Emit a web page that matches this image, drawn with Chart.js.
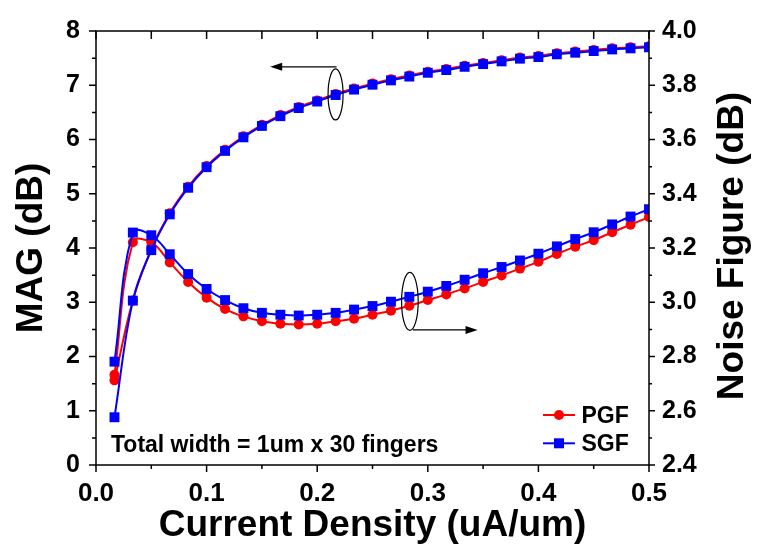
<!DOCTYPE html>
<html>
<head>
<meta charset="utf-8">
<script src="https://cdn.jsdelivr.net/npm/chart.js@4.4.1/dist/chart.umd.min.js"></script>
<style>
  html, body { margin: 0; padding: 0; background: #fff; }
  #wrap { width: 759px; height: 550px; }
</style>
</head>
<body>
<div id="wrap"><canvas id="magChart" width="759" height="550"></canvas></div>
<script>
// Current density (uA/um), one point every 1/60
const currentDensity = [0.0167, 0.0333, 0.05, 0.0667, 0.0833, 0.1, 0.1167, 0.1333, 0.15, 0.1667,
  0.1833, 0.2, 0.2167, 0.2333, 0.25, 0.2667, 0.2833, 0.3, 0.3167, 0.3333,
  0.35, 0.3667, 0.3833, 0.4, 0.4167, 0.4333, 0.45, 0.4667, 0.4833, 0.5];

// MAG (dB), left axis
const magPGF = [1.56, 3.03, 3.98, 4.64, 5.13, 5.51, 5.81, 6.06, 6.27, 6.45,
  6.60, 6.72, 6.84, 6.94, 7.03, 7.11, 7.18, 7.25, 7.30, 7.36,
  7.41, 7.46, 7.51, 7.54, 7.59, 7.62, 7.65, 7.68, 7.70, 7.72];
const magSGF = [0.88, 3.03, 3.96, 4.62, 5.11, 5.49, 5.79, 6.04, 6.25, 6.43,
  6.58, 6.70, 6.82, 6.92, 7.01, 7.09, 7.16, 7.23, 7.28, 7.34,
  7.39, 7.44, 7.49, 7.52, 7.57, 7.60, 7.63, 7.66, 7.68, 7.70];

// Noise figure (dB), right axis
const nfPGF = [2.733, 3.221, 3.221, 3.147, 3.075, 3.017, 2.975, 2.948, 2.930, 2.921,
  2.918, 2.921, 2.930, 2.939, 2.954, 2.969, 2.987, 3.008, 3.029, 3.051,
  3.075, 3.099, 3.124, 3.149, 3.178, 3.205, 3.229, 3.258, 3.286, 3.314];
const nfSGF = [2.781, 3.257, 3.247, 3.177, 3.104, 3.049, 3.008, 2.978, 2.961, 2.954,
  2.951, 2.954, 2.961, 2.973, 2.986, 3.002, 3.020, 3.039, 3.060, 3.083,
  3.107, 3.130, 3.154, 3.179, 3.206, 3.233, 3.258, 3.287, 3.316, 3.343];

const seriesNames = ['PGF', 'SGF'];
const seriesColors = ['#ff0000', '#0000ff'];
const noteText = 'Total width = 1um x 30 fingers';
const nfTitle = 'Noise Figure (dB)';

const FONT = "'Liberation Sans', Arial, sans-serif";
Chart.defaults.font.family = FONT;
Chart.defaults.font.weight = 'bold';
Chart.defaults.color = '#000';

const toPoints = ys => ys.map((y, i) => ({ x: currentDensity[i], y: y }));

function lineSet(label, ys, color, shape, axis, order) {
  return {
    label: label,
    data: toPoints(ys),
    yAxisID: axis,
    borderColor: color,
    backgroundColor: color,
    borderWidth: 2,
    pointStyle: shape,
    pointRadius: shape === 'rect' ? 7 : 5,
    pointBorderWidth: 0,
    tension: 0.4,
    order: order
  };
}

// ticks, frame, arrows, legend, note, right title
const decorations = {
  id: 'decorations',
  afterDatasetsDraw(chart) {
    const { ctx, chartArea: a, scales } = chart;
    const x = scales.x, yl = scales.yMag, yr = scales.yNf;
    ctx.save();
    ctx.strokeStyle = '#000';
    ctx.lineWidth = 1.5;
    ctx.strokeRect(a.left, a.top, a.right - a.left, a.bottom - a.top);

    ctx.beginPath();
    for (let i = 0; i <= 10; i++) {
      const px = x.getPixelForValue(i * 0.05);
      const len = i % 2 === 0 ? 7 : 4;
      ctx.moveTo(px, a.bottom); ctx.lineTo(px, a.bottom + len);
      ctx.moveTo(px, a.top); ctx.lineTo(px, a.top + 8);
    }
    for (let i = 0; i <= 16; i++) {
      const py = yl.getPixelForValue(i * 0.5);
      ctx.moveTo(a.left, py); ctx.lineTo(a.left - (i % 2 === 0 ? 7 : 4), py);
    }
    for (let i = 0; i <= 16; i++) {
      const py = yr.getPixelForValue(2.4 + i * 0.1);
      ctx.moveTo(a.right, py); ctx.lineTo(a.right + (i % 2 === 0 ? 6 : 3), py);
    }
    ctx.stroke();

    // ellipse + arrow marking which curve goes with which axis
    ctx.lineWidth = 1.2;
    function ellipse(cx, cy, rx, ry) {
      ctx.beginPath();
      ctx.ellipse(cx, cy, rx, ry, 0, 0, Math.PI * 2);
      ctx.stroke();
    }
    function arrow(x1, y1, x2, y2) {
      const dir = Math.sign(x2 - x1);
      ctx.beginPath();
      ctx.moveTo(x1, y1); ctx.lineTo(x2 - dir * 10, y2);
      ctx.stroke();
      ctx.beginPath();
      ctx.moveTo(x2, y2);
      ctx.lineTo(x2 - dir * 12, y2 - 4);
      ctx.lineTo(x2 - dir * 12, y2 + 4);
      ctx.closePath();
      ctx.fill();
    }
    ctx.fillStyle = '#000';
    ellipse(x.getPixelForValue(0.2166), yl.getPixelForValue(6.83), 7.5, 25.5);
    arrow(x.getPixelForValue(0.2175), yl.getPixelForValue(7.34), x.getPixelForValue(0.1575), yl.getPixelForValue(7.34));
    ellipse(x.getPixelForValue(0.2838), yr.getPixelForValue(3.003), 8.3, 29);
    arrow(x.getPixelForValue(0.2866), yr.getPixelForValue(2.898), x.getPixelForValue(0.345), yr.getPixelForValue(2.898));

    // note
    ctx.font = 'bold 23px ' + FONT;
    ctx.textBaseline = 'alphabetic';
    ctx.textAlign = 'left';
    ctx.fillText(noteText, a.left + 15, a.bottom - 13);

    // legend
    ctx.font = 'bold 23px ' + FONT;
    seriesNames.forEach((name, i) => {
      const ly = a.bottom - 50 + i * 28.3;
      const lx = a.right - 106;
      ctx.strokeStyle = seriesColors[i];
      ctx.fillStyle = seriesColors[i];
      ctx.lineWidth = 2;
      ctx.beginPath();
      ctx.moveTo(lx, ly); ctx.lineTo(lx + 32, ly);
      ctx.stroke();
      ctx.beginPath();
      if (i === 0) {
        ctx.arc(lx + 16, ly, 5, 0, Math.PI * 2);
      } else {
        ctx.rect(lx + 11, ly - 5, 10, 10);
      }
      ctx.fill();
      ctx.fillStyle = '#000';
      ctx.fillText(name, lx + 38.5, ly + 7.5);
    });

    // right axis title, reading bottom to top like the left one
    ctx.font = 'bold 37px ' + FONT;
    ctx.textAlign = 'center';
    ctx.textBaseline = 'middle';
    ctx.translate(733, (a.top + a.bottom) / 2 - 2);
    ctx.rotate(-Math.PI / 2);
    ctx.fillText(nfTitle, 0, 0);
    ctx.restore();
  }
};

const tickFont = size => ({ family: FONT, size: size, weight: 'bold' });
const titleFont = { family: FONT, size: 37, weight: 'bold' };

const ctx = document.getElementById('magChart').getContext('2d');
const magChart = new Chart(ctx, {
  type: 'line',
  data: {
    datasets: [
      lineSet(seriesNames[0], magPGF, seriesColors[0], 'circle', 'yMag', 2),
      lineSet(seriesNames[0], nfPGF, seriesColors[0], 'circle', 'yNf', 2),
      lineSet(seriesNames[1], magSGF, seriesColors[1], 'rect', 'yMag', 1),
      lineSet(seriesNames[1], nfSGF, seriesColors[1], 'rect', 'yNf', 1)
    ]
  },
  options: {
    responsive: false,
    animation: false,
    events: [],
    layout: { padding: { top: 20, left: 0, right: 0, bottom: 0 } },
    plugins: {
      legend: { display: false },
      tooltip: { enabled: false }
    },
    scales: {
      x: {
        type: 'linear',
        position: 'bottom',
        min: 0,
        max: 0.5,
        grid: { display: false, drawTicks: false },
        border: { display: false },
        ticks: {
          stepSize: 0.1,
          padding: 13,
          color: '#000',
          font: tickFont(26),
          callback: v => v.toFixed(1)
        },
        title: {
          display: true,
          text: 'Current Density (uA/um)',
          color: '#000',
          font: titleFont,
          padding: { top: 0, bottom: 2 }
        },
        afterFit(scale) { scale.height = 85; }
      },
      yMag: {
        type: 'linear',
        position: 'left',
        min: 0,
        max: 8,
        grid: { display: false, drawTicks: false },
        border: { display: false },
        ticks: {
          stepSize: 1,
          padding: 16,
          color: '#000',
          font: tickFont(25)
        },
        title: {
          display: true,
          text: 'MAG (dB)',
          color: '#000',
          font: titleFont,
          padding: { top: 10, bottom: 0 }
        },
        afterFit(scale) { scale.width = 96; }
      },
      yNf: {
        type: 'linear',
        position: 'right',
        min: 2.4,
        max: 4.0,
        grid: { display: false, drawTicks: false },
        border: { display: false },
        ticks: {
          stepSize: 0.2,
          padding: 13,
          color: '#000',
          font: tickFont(25),
          callback: v => v.toFixed(1)
        },
        title: { display: false },
        afterFit(scale) { scale.width = 110; }
      }
    }
  },
  plugins: [decorations]
});
</script>
</body>
</html>
